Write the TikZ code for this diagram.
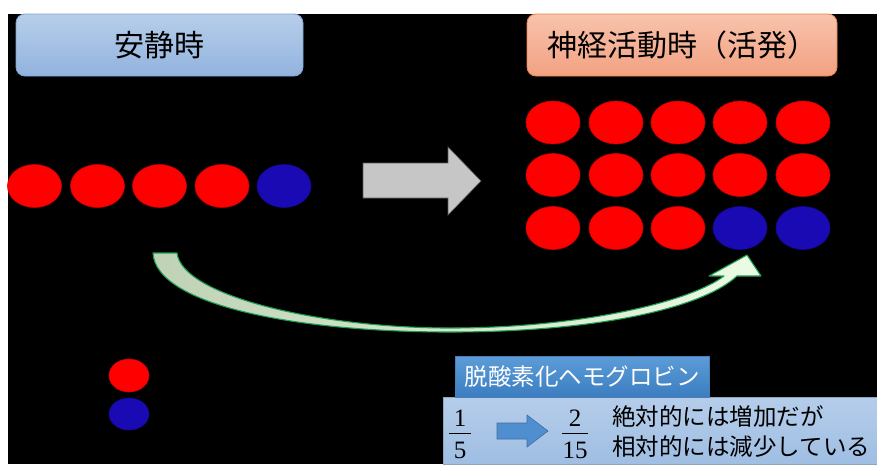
\documentclass[tikz,border=0pt]{standalone}
\usepackage{fontspec}
\setmainfont{Noto Sans CJK JP}
\newfontfamily\numfont{Liberation Serif}
\usetikzlibrary{shapes.geometric}
\definecolor{redc}{HTML}{FF0000}
\definecolor{bluec}{HTML}{1A0AB4}
\definecolor{titleBlueTop}{HTML}{B7CEEA}
\definecolor{titleBlueBot}{HTML}{92B3DE}
\definecolor{titleBlueLine}{HTML}{7DA3D3}
\definecolor{titlePeachTop}{HTML}{F8C3AC}
\definecolor{titlePeachBot}{HTML}{F2A182}
\definecolor{titlePeachLine}{HTML}{E8884F}
\definecolor{labTop}{HTML}{5C9CD8}
\definecolor{labBot}{HTML}{3B7DC0}
\definecolor{labLine}{HTML}{4A7FB5}
\definecolor{lightTop}{HTML}{B5CDEA}
\definecolor{lightBot}{HTML}{9FBEE3}
\definecolor{greenLine}{HTML}{1E9E50}
\definecolor{greenL}{HTML}{BFD2B6}
\definecolor{greenR}{HTML}{ECFBE4}
\definecolor{arrowBlue}{HTML}{4F8FD0}
\definecolor{arrowBlueLine}{HTML}{3F6FA0}
\tikzset{
  ball/.style={ellipse, inner sep=0pt, minimum width=54pt, minimum height=43pt, line width=0.6pt},
  redball/.style={ball, fill=redc, draw=redc!80!black},
  blueball/.style={ball, fill=bluec, draw=bluec!80!black},
  smallred/.style={ellipse, inner sep=0pt, minimum width=40pt, minimum height=33pt, fill=redc, draw=redc!80!black, line width=0.6pt},
  smallblue/.style={ellipse, inner sep=0pt, minimum width=40pt, minimum height=32pt, fill=bluec, draw=bluec!80!black, line width=0.6pt},
  titlebox/.style={rounded corners=9pt, minimum height=62pt, inner sep=0pt, line width=0.8pt, font=\fontsize{30}{34}\selectfont},
  jtext/.style={font=\fontsize{23.5}{26}\selectfont, inner sep=0pt, anchor=west},
  numtext/.style={font=\numfont\fontsize{25}{27}\selectfont, inner sep=0pt},
}
\begin{document}
\begin{tikzpicture}[x=1pt,y=-1pt]
\useasboundingbox (0,0) rectangle (877,464);
\fill[white] (0,0) rectangle (877,464);
\fill[black] (8,14) rectangle (877,464);

% titles
\node[titlebox, draw=titleBlueLine, top color=titleBlueTop, bottom color=titleBlueBot, minimum width=287pt] (rest) at (159.5,45) {安静時};
\node[titlebox, draw=titlePeachLine, top color=titlePeachTop, bottom color=titlePeachBot, minimum width=310pt] (active) at (682,45) {神経活動時（活発）};

% left row
\node[redball] (l1) at (34.5,186) {};
\node[redball] (l2) at (97.5,186) {};
\node[redball] (l3) at (159.5,186) {};
\node[redball] (l4) at (222,186) {};
\node[blueball] (l5) at (284,186) {};

% right grid
\foreach \r/\y in {1/122.5,2/175,3/228}{
  \foreach \c/\x in {1/553,2/616,3/678,4/740,5/803}{
    \pgfmathtruncatemacro{\isblue}{(\r==3 && \c>3) ? 1 : 0}
    \ifnum\isblue=1
      \node[blueball] (g\r\c) at (\x,\y) {};
    \else
      \node[redball] (g\r\c) at (\x,\y) {};
    \fi
  }
}

% gray arrow
\fill[gray!45!white, draw=gray!70!black, line width=0.6pt]
  (363,163) -- (448,163) -- (448,147) -- (481,181) -- (448,215) -- (448,198) -- (363,198) -- cycle;

% curved arrow
\shade[left color=greenL, right color=greenR]
  (153,253) -- (177,253)
  .. controls (182,296) and (320,328) .. (450,328)
  .. controls (580,328) and (690,302) .. (724,276)
  -- (709,276) -- (747,255) -- (761,276) -- (737,276)
  .. controls (700,310) and (590,332) .. (450,332)
  .. controls (300,332) and (156,306) .. (153,253) -- cycle;
\draw[greenLine, line width=1.1pt, line join=round]
  (153,253) -- (177,253)
  .. controls (182,296) and (320,328) .. (450,328)
  .. controls (580,328) and (690,302) .. (724,276)
  -- (709,276) -- (747,255) -- (761,276) -- (737,276)
  .. controls (700,310) and (590,332) .. (450,332)
  .. controls (300,332) and (156,306) .. (153,253) -- cycle;

% small legend balls
\node[smallred] (sr) at (129,375.5) {};
\node[smallblue] (sb) at (129,414) {};

% bottom boxes
\node[draw=lightTop!80!black, top color=lightTop, bottom color=lightBot, minimum width=440pt, minimum height=67pt, inner sep=0pt, anchor=north west, line width=0.6pt] (panel) at (443,397) {};
\node[draw=labLine, top color=labTop, bottom color=labBot, minimum width=254pt, minimum height=41pt, inner sep=0pt, text=white, font=\fontsize{23.5}{26}\selectfont, line width=0.6pt] (label) at (582,376.5) {脱酸素化ヘモグロビン};

% fractions
\node[numtext] (n1) at (460,418) {1};
\node[numtext] (d1) at (460,450) {5};
\draw[line width=1pt] (449,433.5) -- (471,433.5);
\node[numtext] (n2) at (575,418) {2};
\node[numtext] (d2) at (575,450) {15};
\draw[line width=1pt] (562,433.5) -- (588,433.5);

% blue arrow
\fill[arrowBlue, draw=arrowBlueLine, line width=0.6pt]
  (497,423) -- (527,423) -- (527,415) -- (548,431) -- (527,447) -- (527,439) -- (497,439) -- cycle;

\node[jtext] (t1) at (612,417) {絶対的には増加だが};
\node[jtext] (t2) at (612,447) {相対的には減少している};
\end{tikzpicture}
\end{document}
